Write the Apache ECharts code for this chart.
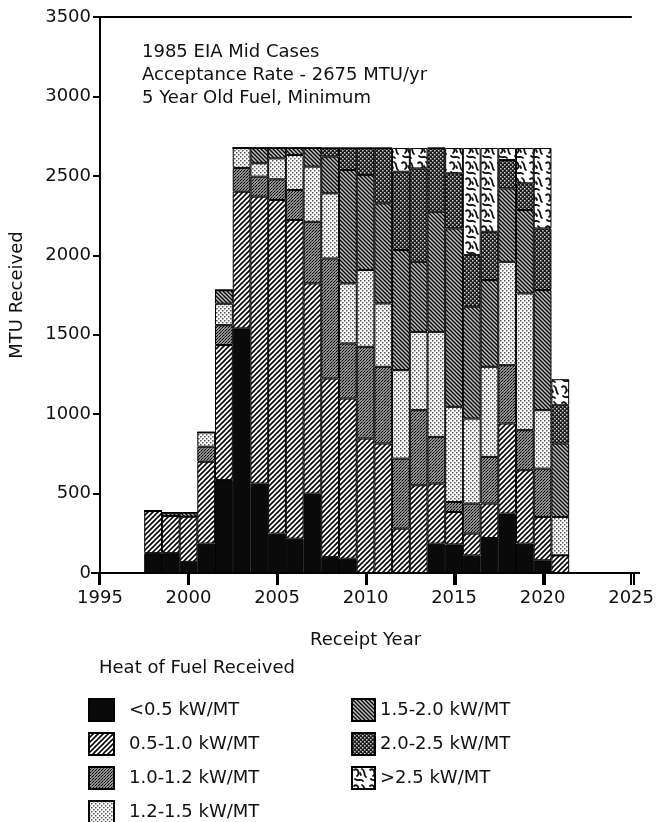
<!DOCTYPE html>
<html>
<head>
<meta charset="utf-8">
<script src="https://cdn.jsdelivr.net/npm/echarts@6/dist/echarts.min.js"></script>
<style>
html,body{margin:0;padding:0;background:#fff;}
#chart{width:657px;height:822px;}
</style>
</head>
<body>
<div id="chart"></div>
<script>
// ---- data (MTU received per year, by heat class) ----
const years = [1998,1999,2000,2001,2002,2003,2004,2005,2006,2007,2008,2009,2010,2011,2012,2013,2014,2015,2016,2017,2018,2019,2020,2021];
const heatLt05   = [125,125,70,185,585,1540,563,248,216,500,100,90,0,0,0,0,185,180,111,220,374,185,80,0];
const heat05to10 = [265,235,285,515,850,860,1806,2100,2006,1323,1124,1008,846,815,279,552,378,204,137,217,567,462,273,111];
const heat10to12 = [0,0,0,95,125,150,126,130,189,388,756,347,578,483,441,473,294,63,189,294,367,252,304,0];
const heat12to15 = [0,0,0,90,135,125,84,132,220,347,410,378,483,399,557,493,661,599,535,567,651,861,368,242];
const heat15to20 = [0,20,25,0,85,0,96,65,44,117,231,714,598,630,756,441,756,1123,704,546,462,525,756,462];
const heat20to25 = [0,0,0,0,0,0,0,0,0,0,54,138,170,348,493,588,401,347,325,304,179,168,388,241];
const heatGt25   = [0,0,0,0,0,0,0,0,0,0,0,0,0,0,149,128,0,159,674,527,75,222,506,164];
const seriesNames = ['<0.5 kW/MT','0.5-1.0 kW/MT','1.0-1.2 kW/MT','1.2-1.5 kW/MT','1.5-2.0 kW/MT','2.0-2.5 kW/MT','>2.5 kW/MT'];
const seriesValues = [heatLt05, heat05to10, heat10to12, heat12to15, heat15to20, heat20to25, heatGt25];
const yTicks = {min:0, max:3500, interval:500};
const xTicks = {min:1995, max:2025, interval:5};

// axis categories: every year of the axis span
const axisYears = [];
for (let y = xTicks.min; y <= xTicks.max; y++) axisYears.push(y);

// ---- fill patterns ----
function pattern(size, bg, draw){
  const c = document.createElement('canvas');
  c.width = size; c.height = size;
  const g = c.getContext('2d');
  g.fillStyle = bg; g.fillRect(0,0,size,size);
  draw(g, size);
  return {image:c, repeat:'repeat'};
}
const fills = [
  '#0a0a0a',
  pattern(5, '#ffffff', (g,s)=>{ g.strokeStyle='#000'; g.lineWidth=1.6; g.beginPath();
    g.moveTo(0,s); g.lineTo(s,0); g.moveTo(-1,1); g.lineTo(1,-1); g.moveTo(s-1,s+1); g.lineTo(s+1,s-1); g.stroke(); }),
  pattern(3, '#8c8c8c', (g,s)=>{ g.fillStyle='#000'; g.fillRect(0,0,1,1); g.fillRect(1,2,1,1); g.fillStyle='#444'; g.fillRect(2,1,1,1); }),
  pattern(4, '#ffffff', (g,s)=>{ g.fillStyle='#555'; g.fillRect(0,0,1.5,1.5); g.fillRect(2,2,1.5,1.5); }),
  pattern(4, '#c0c0c0', (g,s)=>{ g.strokeStyle='#000'; g.lineWidth=1.3; g.beginPath();
    g.moveTo(0,0); g.lineTo(s,s); g.moveTo(-1,s-1); g.lineTo(1,s+1); g.moveTo(s-1,-1); g.lineTo(s+1,1); g.stroke(); }),
  pattern(4, '#1a1a1a', (g,s)=>{ g.fillStyle='#d0d0d0'; g.fillRect(0,0,1.5,1.5); g.fillRect(2,2,1.5,1.5); }),
  pattern(16, '#ffffff', (g,s)=>{ g.strokeStyle='#111'; g.lineWidth=1.8; g.lineCap='round';
    g.beginPath(); g.moveTo(2,3); g.bezierCurveTo(6,0,8,7,5,9); g.stroke();
    g.beginPath(); g.moveTo(10,2); g.bezierCurveTo(14,4,11,8,14,10); g.stroke();
    g.beginPath(); g.moveTo(3,12); g.bezierCurveTo(6,15,9,11,11,14); g.stroke();
    g.beginPath(); g.moveTo(8,6); g.lineTo(9,8); g.stroke(); })
];

const series = seriesNames.map((name, i) => ({
  name: name,
  type: 'bar',
  stack: 'total',
  xAxisIndex: 0,
  yAxisIndex: 0,
  barWidth: 17.8,
  itemStyle: {color: fills[i], borderColor: '#000', borderWidth: 1},
  emphasis: {disabled: true},
  data: axisYears.map(y => {
    const k = years.indexOf(y);
    return k < 0 ? 0 : seriesValues[i][k];
  })
}));

const font = 'DejaVu Sans';
const plain = v => String(v);
const chart = echarts.init(document.getElementById('chart'), null, {renderer:'canvas'});
chart.setOption({
  animation: false,
  backgroundColor: '#fff',
  textStyle: {fontFamily: font},
  title: [
    {text: '1985 EIA Mid Cases\nAcceptance Rate - 2675 MTU/yr\n5 Year Old Fuel, Minimum',
     left: 137, top: 36,
     textStyle: {fontFamily: font, fontSize: 18, fontWeight: 'normal', color: '#111', lineHeight: 23}},
    {text: 'Heat of Fuel Received', left: 94, top: 654,
     textStyle: {fontFamily: font, fontSize: 18, fontWeight: 'normal', color: '#111'}}
  ],
  legend: [
    {data: seriesNames.slice(0,4), orient: 'vertical', left: 88, top: 698, icon: 'rect',
     padding: 0, itemWidth: 25, itemHeight: 22, itemGap: 10, height: 200,
     textStyle: {fontFamily: font, fontSize: 18, color: '#111', lineHeight: 22, padding: [0,0,0,10]}},
    {data: seriesNames.slice(4), orient: 'vertical', left: 351, top: 698, icon: 'rect',
     padding: 0, itemWidth: 23, itemHeight: 22, itemGap: 10, height: 200,
     textStyle: {fontFamily: font, fontSize: 18, color: '#111', lineHeight: 22, padding: [0,0,0,0]}}
  ],
  grid: [
    {left: 99, right: 23, top: 17, bottom: 249, containLabel: false},
    // thin strip just below the plot that carries the year tick marks
    {left: 99, right: 23, top: 573, height: 12, containLabel: false}
  ],
  xAxis: [
    {type: 'category', gridIndex: 0, data: axisYears, boundaryGap: false, position: 'bottom',
     axisLine: {show: false}, axisTick: {show: false}, axisLabel: {show: false},
     splitLine: {show: false}},
    {type: 'value', gridIndex: 0, position: 'bottom', min: xTicks.min, max: xTicks.max, interval: xTicks.interval,
     name: 'Receipt Year', nameLocation: 'middle', nameGap: 58,
     nameTextStyle: {fontFamily: font, fontSize: 18, color: '#111'},
     axisLine: {show: true, onZero: false, lineStyle: {color: '#000', width: 2}},
     axisTick: {show: true, inside: false, length: 12, lineStyle: {color: '#000', width: 2}},
     axisLabel: {fontFamily: font, fontSize: 18, color: '#111', margin: 16, formatter: plain},
     splitLine: {show: false}},
    {type: 'value', gridIndex: 0, position: 'top', min: 0, max: 1,
     axisLine: {show: true, onZero: false, lineStyle: {color: '#000', width: 2}},
     axisTick: {show: false}, axisLabel: {show: false}, splitLine: {show: false}},
    {type: 'value', gridIndex: 1, min: xTicks.min, max: xTicks.max, interval: xTicks.interval,
     axisLine: {show: false}, axisTick: {show: false}, axisLabel: {show: false},
     splitLine: {show: true, lineStyle: {color: '#000', width: 2, type: 'solid'}}}
  ],
  yAxis: [
    {type: 'value', gridIndex: 0, min: yTicks.min, max: yTicks.max, interval: yTicks.interval,
     name: 'MTU Received', nameLocation: 'middle', nameGap: 74,
     nameTextStyle: {fontFamily: font, fontSize: 18, color: '#111'},
     axisLine: {show: true, lineStyle: {color: '#000', width: 2}},
     axisTick: {show: true, length: 7, lineStyle: {color: '#000', width: 2}},
     axisLabel: {fontFamily: font, fontSize: 18, color: '#111', margin: 9, formatter: plain},
     splitLine: {show: false}},
    {type: 'value', gridIndex: 1, min: 0, max: 1, show: false,
     axisLine: {show: false}, axisTick: {show: false}, axisLabel: {show: false}, splitLine: {show: false}}
  ],
  series: series
});
</script>
</body>
</html>
